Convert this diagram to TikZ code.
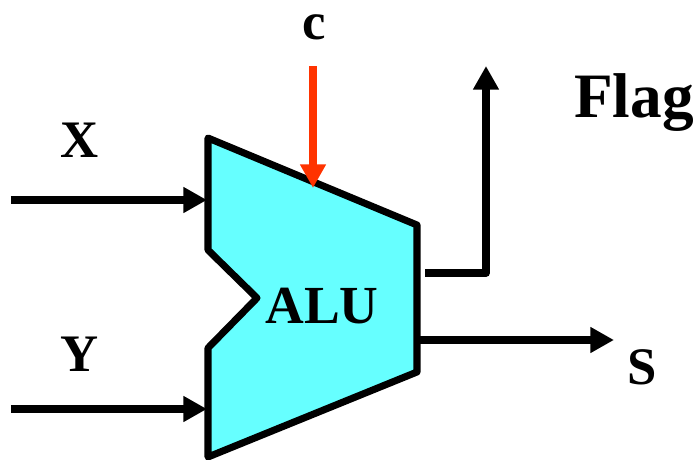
\documentclass[tikz,border=0pt]{standalone}
\usepackage{fontspec}
\setmainfont{Liberation Serif}
\usepackage{xcolor}
\usetikzlibrary{arrows.meta,positioning}
\definecolor{alucyan}{HTML}{66FFFF}
\definecolor{ctrlred}{HTML}{FF3300}
\tikzset{
  wire/.style={line width=4.3pt,-{Triangle[length=13.5pt,width=14pt]}},
  lbl/.style={font=\fontsize{30}{30}\selectfont\bfseries,inner sep=0pt,anchor=base}
}

\begin{document}
\begin{tikzpicture}[x=0.02cm,y=-0.02cm]
\useasboundingbox (0,0) rectangle (698,460);
\draw[line width=4pt,line join=round,fill=alucyan] (208,138) -- (417,225) -- (417,372) -- (208,457)
  -- (208,348) -- (257,298) -- (208,250) -- cycle;
\node[lbl,font=\fontsize{30.5}{30}\selectfont\bfseries] (alu) at (322,323) {ALU};
\coordinate (xin) at (11,200); \coordinate (xout) at (207,200);
\coordinate (yin) at (11,409); \coordinate (yout) at (207,409);
\coordinate (cin) at (313,66); \coordinate (cout) at (313,188);
\coordinate (fin) at (425,273); \coordinate (fbend) at (486,273); \coordinate (fout) at (486,66);
\coordinate (sin) at (417,340); \coordinate (sout) at (614,340);
\draw[wire] (xin) -- (xout);
\draw[wire] (yin) -- (yout);
\draw[wire,color=ctrlred] (cin) -- (cout);
\draw[wire,line join=round] (fin) -- (fbend) -- (fout);
\draw[wire] (sin) -- (sout);
\node[lbl] (xlab) at (80,157) {X};
\node[lbl] (ylab) at (80,371) {Y};
\node[lbl] (clab) at (314,39) {c};
\node[lbl,font=\fontsize{36}{36}\selectfont\bfseries] (flab) at (634,117) {Flag};
\node[lbl] (slab) at (642,384) {S};
\end{tikzpicture}
\end{document}
